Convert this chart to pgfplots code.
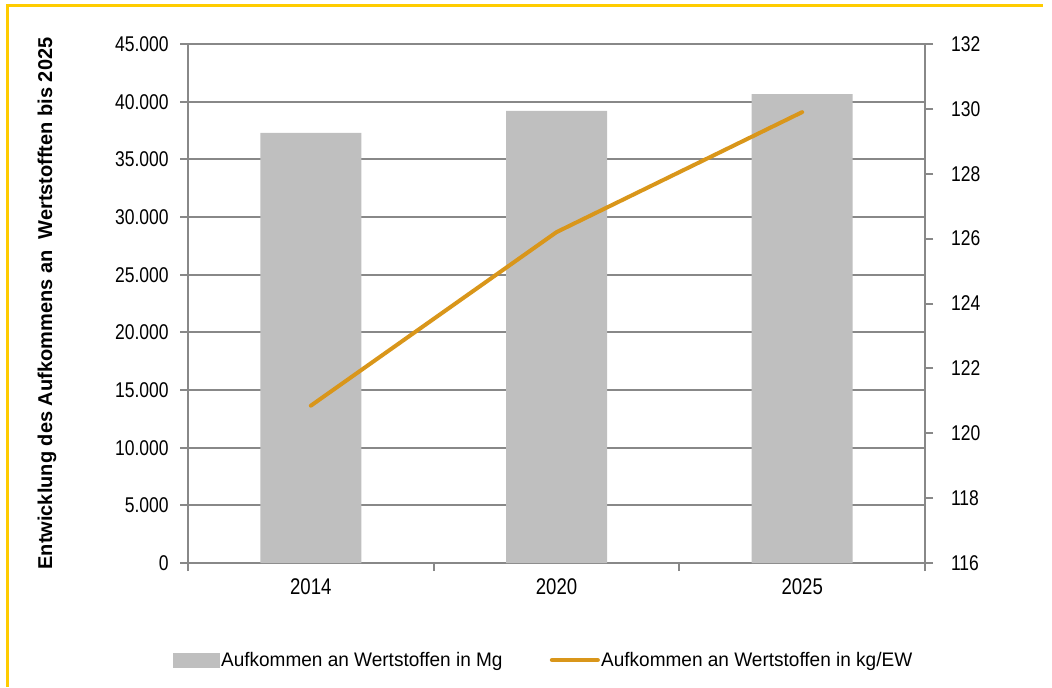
\documentclass[border=0pt]{standalone}
\usepackage{fontspec}
\setmainfont{Liberation Sans}[FakeStretch=0.82]
\newfontfamily\legendfont{Liberation Sans}[FakeStretch=0.97]
\newfontfamily\labelfont{Liberation Sans}[FakeStretch=1.0]
\usepackage{pgfplots}
\pgfplotsset{compat=1.18}

\definecolor{barcol}{RGB}{191,191,191}
\definecolor{linecol}{RGB}{217,150,26}
\definecolor{gridcol}{RGB}{136,136,136}
\definecolor{framecol}{RGB}{255,204,0}

\begin{document}
\begin{tikzpicture}
\useasboundingbox (0,0) rectangle (789pt,515.25pt);
% gelber Rahmen (nur links und oben)
\draw[framecol, line width=2.25pt] (5.25pt,0pt) -- (5.25pt,510.75pt) -- (782.25pt,510.75pt);

% Balken, linke Achse
\begin{axis}[
    at={(141pt,93pt)}, anchor=south west,
    width=552.75pt, height=389.25pt, scale only axis,
    xmin=-0.5, xmax=2.5, ymin=0, ymax=45000,
    axis x line*=bottom, axis y line*=left,
    axis line style={-, draw=gridcol, line width=1.5pt},
    xtick={-0.5,0.5,1.5,2.5}, xticklabels={2014,2020,2025},
    x tick label as interval,
    ytick={0,5000,...,45000},
    scaled y ticks=false,
    /pgf/number format/.cd, 1000 sep={.}, assume math mode=true, /pgfplots/.cd,
    ymajorgrids, grid style={gridcol, line width=1.5pt},
    tick align=outside, major tick length=6pt,
    tick style={gridcol, line width=1.5pt},
    y tick label style={font=\fontsize{16}{16}\selectfont, xshift=-5pt},
    x tick label style={font=\fontsize{17}{17}\selectfont, yshift=-2pt},
    every axis y label/.style={at={(axis description cs:-0.1913,0.5)}, rotate=90, anchor=center},
    ylabel={\labelfont\bfseries\fontsize{15}{15}\selectfont Entwicklung des Aufkommens an\ \ Wertstofften bis 2025},
]
\addplot[ybar, bar width=75.75pt, fill=barcol, draw=none] coordinates {
    (0,37300) (1,39200) (2,40650)
};
\end{axis}

% Linie, rechte Achse
\begin{axis}[
    at={(141pt,93pt)}, anchor=south west,
    width=552.75pt, height=389.25pt, scale only axis,
    xmin=-0.5, xmax=2.5, ymin=116, ymax=132,
    axis x line=none, axis y line*=right,
    axis line style={-, draw=gridcol, line width=1.5pt},
    ytick={116,118,...,132},
    /pgf/number format/.cd, assume math mode=true, /pgfplots/.cd,
    tick align=outside, major tick length=6pt,
    tick style={gridcol, line width=1.5pt},
    y tick label style={font=\fontsize{16}{16}\selectfont, xshift=10pt},
    legend columns=2,
    legend style={draw=none, fill=none, inner sep=0pt,
        at={(axis description cs:-0.0204,-0.1869)}, anchor=west,
        font=\legendfont\fontsize{14.7}{14.7}\selectfont,
        nodes={inner sep=1pt},
        /tikz/every even column/.append style={column sep=34.5pt}},
]
\addlegendimage{legend image code/.code={\fill[barcol] (0pt,-5.25pt) rectangle (34.5pt,5.25pt);}}
\addlegendentry{Aufkommen an Wertstoffen in Mg}
\addplot[linecol, line width=3pt, line join=round, line cap=round,
    legend image code/.code={\draw[linecol, line width=3pt] (0pt,0pt) -- (34.5pt,0pt);}]
    coordinates {(0,120.85) (1,126.2) (2,129.9)};
\addlegendentry{Aufkommen an Wertstoffen in kg/EW}
\end{axis}
\end{tikzpicture}
\end{document}
